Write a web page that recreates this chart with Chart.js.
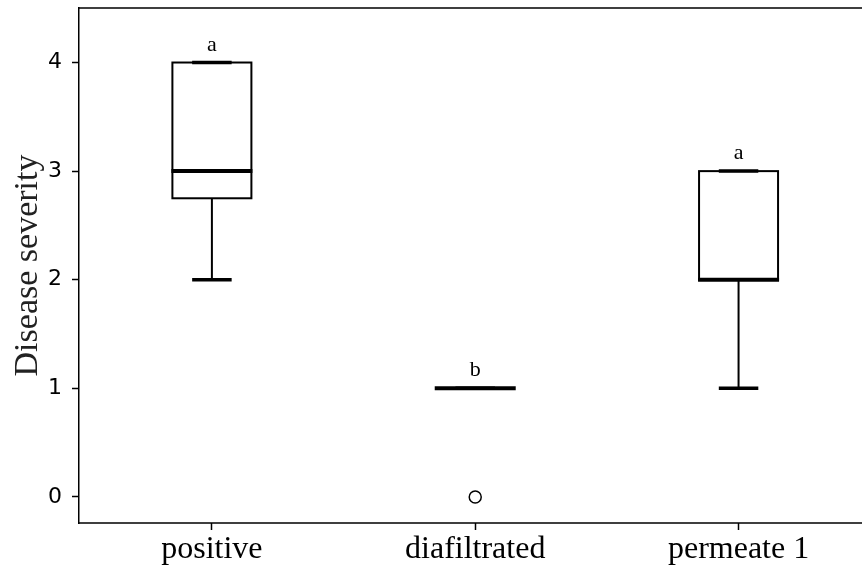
<!DOCTYPE html>
<html>
<head>
<meta charset="utf-8">
<script src="https://cdn.jsdelivr.net/npm/chart.js@4.4.1/dist/chart.umd.min.js"></script>
<style>
  html, body { margin: 0; padding: 0; background: #fff; }
  #wrap { width: 862px; height: 570px; }
</style>
</head>
<body>
<div id="wrap"><canvas id="box-chart" width="862" height="570"></canvas></div>
<script>
// 데이터
const groups = ["positive", "diafiltrated", "permeate 1"];
const whiskerLow = [2, 1, 1];
const q1 = [2.75, 1, 2];
const median = [3, 1, 2];
const q3 = [4, 1, 3];
const whiskerHigh = [4, 1, 3];
const outliers = [[], [0], []];
const letters = ["a", "b", "a"];
const yTicks = [0, 1, 2, 3, 4];

const serif = "'Liberation Serif', 'Times New Roman', serif";
const sans = "'DejaVu Sans', sans-serif";

// 박스플롯 그리기 (스케일 사용)
const boxPlugin = {
  id: "boxes",
  afterDatasetsDraw(chart) {
    const { ctx, scales: { x, y }, chartArea } = chart;
    const half = 0.15, capHalf = 0.075;
    ctx.save();
    ctx.strokeStyle = "#000";
    ctx.lineCap = "butt";

    // 위/아래 테두리 (오른쪽 끝까지)
    const yBottom = y.getPixelForValue(y.min);
    ctx.lineWidth = 1.5;
    ctx.beginPath();
    ctx.moveTo(chartArea.left, chartArea.top);
    ctx.lineTo(chart.width, chartArea.top);
    ctx.moveTo(chartArea.left, yBottom);
    ctx.lineTo(chart.width, yBottom);
    ctx.stroke();

    groups.forEach((g, i) => {
      const pos = i + 1;
      const xl = x.getPixelForValue(pos - half);
      const xr = x.getPixelForValue(pos + half);
      const xc = x.getPixelForValue(pos);
      const cl = x.getPixelForValue(pos - capHalf);
      const cr = x.getPixelForValue(pos + capHalf);

      // 박스
      ctx.lineWidth = 2;
      ctx.strokeRect(xl, y.getPixelForValue(q3[i]), xr - xl,
        y.getPixelForValue(q1[i]) - y.getPixelForValue(q3[i]));

      // 수염
      ctx.beginPath();
      ctx.moveTo(xc, y.getPixelForValue(q1[i]));
      ctx.lineTo(xc, y.getPixelForValue(whiskerLow[i]));
      ctx.moveTo(xc, y.getPixelForValue(q3[i]));
      ctx.lineTo(xc, y.getPixelForValue(whiskerHigh[i]));
      ctx.stroke();

      // 캡
      ctx.lineWidth = 3.5;
      ctx.beginPath();
      ctx.moveTo(cl, y.getPixelForValue(whiskerLow[i]));
      ctx.lineTo(cr, y.getPixelForValue(whiskerLow[i]));
      ctx.moveTo(cl, y.getPixelForValue(whiskerHigh[i]));
      ctx.lineTo(cr, y.getPixelForValue(whiskerHigh[i]));
      ctx.stroke();

      // 중앙값
      ctx.lineWidth = 4;
      ctx.beginPath();
      ctx.moveTo(xl - 1, y.getPixelForValue(median[i]));
      ctx.lineTo(xr + 1, y.getPixelForValue(median[i]));
      ctx.stroke();

      // 유의성 문자
      ctx.fillStyle = "#000";
      ctx.font = "22px " + serif;
      ctx.textAlign = "center";
      ctx.textBaseline = "alphabetic";
      ctx.fillText(letters[i], xc, y.getPixelForValue(whiskerHigh[i] + 0.11));
    });
    ctx.restore();
  },
};

const outlierPoints = outliers.flatMap((vals, i) => vals.map((v) => ({ x: i + 1, y: v })));

const config = {
  type: "scatter",
  data: {
    datasets: [
      {
        label: "outliers",
        data: outlierPoints,
        pointStyle: "circle",
        pointRadius: 6,
        backgroundColor: "#fff",
        borderColor: "#000",
        borderWidth: 1.5,
      },
    ],
  },
  options: {
    responsive: false,
    animation: false,
    layout: { padding: { top: 8, right: 0, left: 0, bottom: 0 } },
    plugins: {
      legend: { display: false },
      tooltip: { enabled: false },
    },
    scales: {
      x: {
        type: "linear",
        min: 0.4953,
        max: 3.4403,
        afterBuildTicks: (scale) => {
          scale.ticks = groups.map((g, i) => ({ value: i + 1 }));
        },
        afterFit: (scale) => {
          scale.height = 47;
          scale.paddingLeft = 0;
          scale.paddingRight = 0;
        },
        ticks: {
          callback: (v) => groups[v - 1],
          font: { family: serif, size: 32 },
          color: "#000",
          padding: 0,
          maxRotation: 0,
          autoSkip: false,
        },
        grid: { display: true, drawOnChartArea: false, tickLength: 7, tickWidth: 1.5, tickColor: "#000" },
        border: { display: false },
      },
      y: {
        min: -0.24,
        max: 4.502,
        afterBuildTicks: (scale) => {
          scale.ticks = yTicks.map((v) => ({ value: v }));
        },
        afterFit: (scale) => {
          scale.width = 79;
          scale.paddingTop = 0;
          scale.paddingBottom = 0;
        },
        ticks: {
          font: { family: sans, size: 22 },
          color: "#000",
          padding: 10,
        },
        title: {
          display: true,
          text: "Disease severity",
          font: { family: serif, size: 34 },
          color: "#222",
          padding: { top: 8, bottom: 0 },
        },
        grid: { display: true, drawOnChartArea: false, tickLength: 7, tickWidth: 1.5, tickColor: "#000" },
        border: { display: true, color: "#000", width: 1.5 },
      },
    },
  },
  plugins: [boxPlugin],
};

const ctx = document.getElementById("box-chart").getContext("2d");
new Chart(ctx, config);
</script>
</body>
</html>
